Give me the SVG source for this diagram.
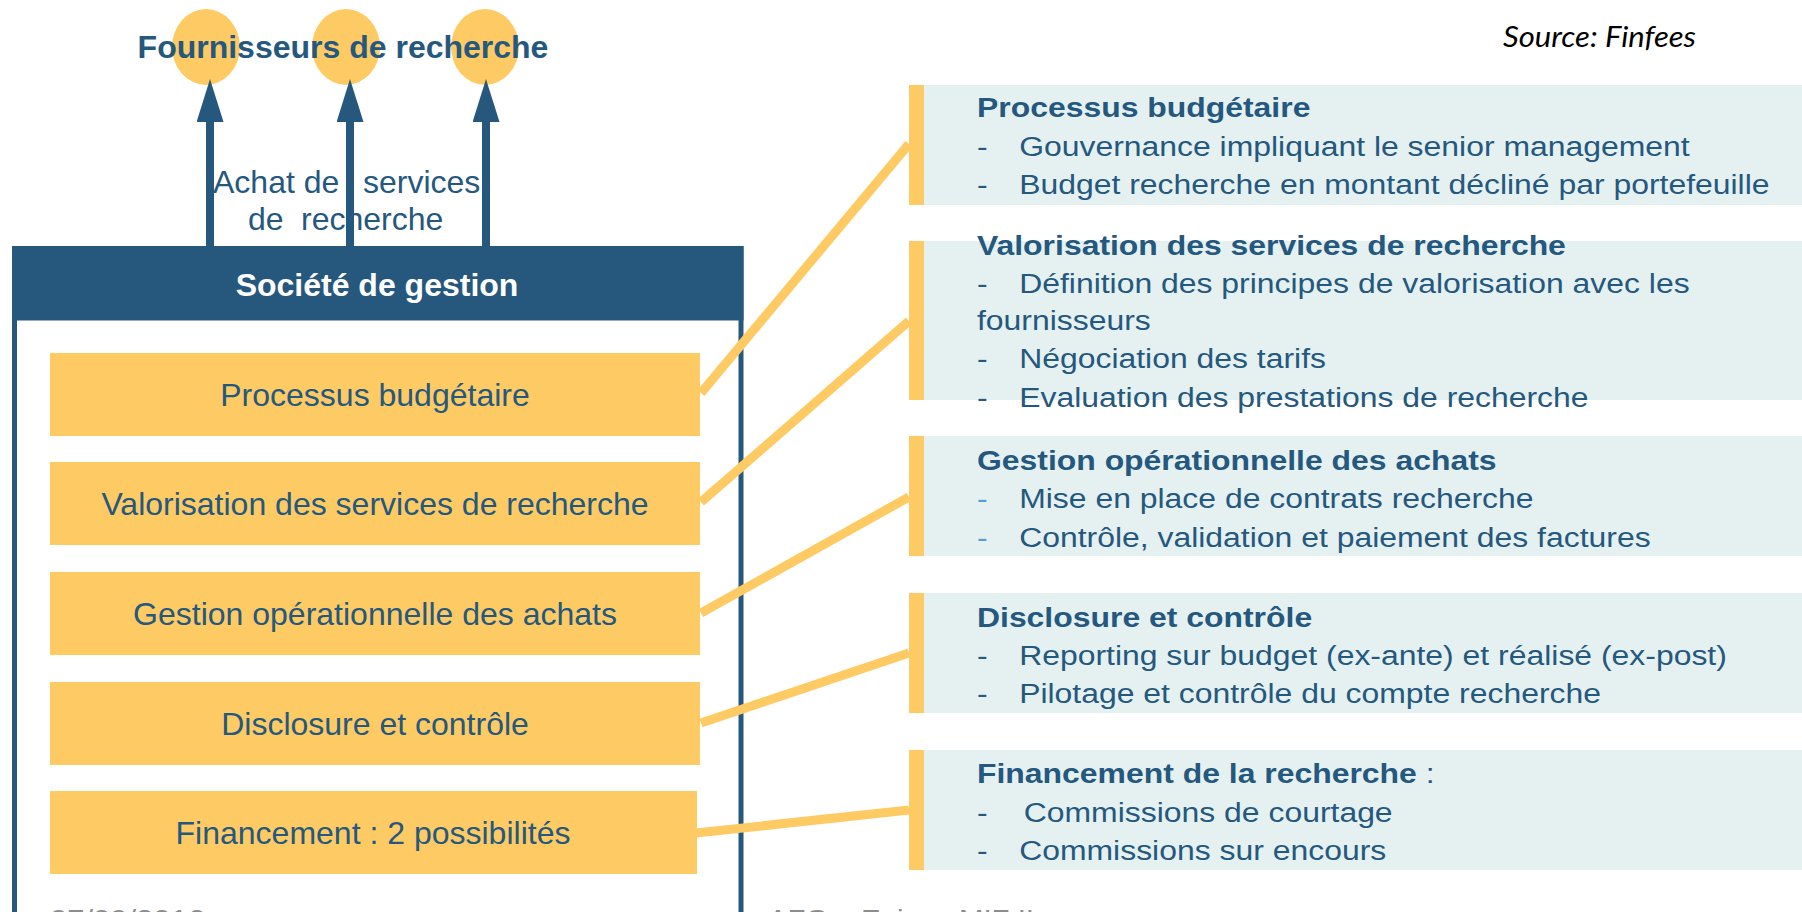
<svg xmlns="http://www.w3.org/2000/svg" width="1802" height="912" viewBox="0 0 1802 912">
  <style>
    .t { font-family: "Liberation Sans", Arial, sans-serif; fill: #25587E; }
    .b { font-weight: bold; }
    .box { fill: #FECA64; }
    .panel { fill: #E5F1F1; }
    .bar { fill: #FECA64; }
    .link { stroke: #FECA64; stroke-width: 9; fill: none; stroke-linecap: butt; }
    .shaft { stroke: #26587D; stroke-width: 8; fill: none; }
    .foot { font-family: "Liberation Sans", Arial, sans-serif; font-size: 26px; fill: #8C8C8C; }
  </style>
  <defs>
    <marker id="head" markerUnits="userSpaceOnUse" markerWidth="44" markerHeight="28" refX="0" refY="13.5" orient="auto">
      <path d="M0,0 L43,13.5 L0,27 z" fill="#26587D"/>
    </marker>
  </defs>

  <rect width="1802" height="912" fill="#FFFFFF"/>

  <!-- research providers -->
  <g id="providers">
    <ellipse cx="206" cy="47" rx="34" ry="38" fill="#FECA64"/>
    <ellipse cx="346" cy="47" rx="34" ry="38" fill="#FECA64"/>
    <ellipse cx="485" cy="47" rx="34" ry="38" fill="#FECA64"/>
    <text class="t b" x="343" y="58" font-size="32" text-anchor="middle">Fournisseurs de recherche</text>
  </g>

  <text id="source" x="1503" y="47" font-family="Lato, 'Open Sans', sans-serif" font-style="italic" font-size="29" fill="#000000" textLength="193" lengthAdjust="spacingAndGlyphs">Source: Finfees</text>

  <!-- purchase label -->
  <g id="purchase-label">
    <text class="t" font-size="32"><tspan x="213" y="193">Achat de</tspan><tspan x="363" y="193">services</tspan></text>
    <text class="t" font-size="32"><tspan x="248" y="230">de</tspan><tspan x="301" y="230">recherche</tspan></text>
  </g>

  <!-- management company frame -->
  <g id="societe">
    <rect x="14.5" y="248.5" width="726.5" height="720" fill="none" stroke="#26587D" stroke-width="5"/>
    <rect x="12" y="246" width="731.5" height="74.5" fill="#26587D"/>
    <text class="b" x="377" y="296" font-family="'Liberation Sans', Arial, sans-serif" font-size="32" fill="#FFFFFF" text-anchor="middle">Société de gestion</text>
  </g>

  <g id="box-budget">
    <rect class="box" x="50" y="353" width="650" height="83"/>
    <text class="t" x="375" y="406" font-size="32" text-anchor="middle">Processus budgétaire</text>
  </g>
  <g id="box-valorisation">
    <rect class="box" x="50" y="462" width="650" height="83"/>
    <text class="t" x="375" y="515" font-size="32" text-anchor="middle">Valorisation des services de recherche</text>
  </g>
  <g id="box-gestion">
    <rect class="box" x="50" y="572" width="650" height="83"/>
    <text class="t" x="375" y="625" font-size="32" text-anchor="middle">Gestion opérationnelle des achats</text>
  </g>
  <g id="box-disclosure">
    <rect class="box" x="50" y="682" width="650" height="83"/>
    <text class="t" x="375" y="735" font-size="32" text-anchor="middle">Disclosure et contrôle</text>
  </g>
  <g id="box-financement">
    <rect class="box" x="50" y="791" width="647" height="83"/>
    <text class="t" x="373" y="844" font-size="32" text-anchor="middle">Financement : 2 possibilités</text>
  </g>

  <!-- detail panels -->
  <g id="panel-budget">
    <rect class="panel" x="924" y="85" width="878" height="120"/>
    <rect class="bar" x="909" y="85" width="15" height="120"/>
    <g transform="scale(1.14 1)" class="t" font-size="28">
      <text class="b" x="857" y="117">Processus budgétaire</text>
      <text x="857" y="156">-</text><text x="894" y="156">Gouvernance impliquant le senior management</text>
      <text x="857" y="194">-</text><text x="894" y="194">Budget recherche en montant décliné par portefeuille</text>
    </g>
  </g>
  <g id="panel-valorisation">
    <rect class="panel" x="924" y="241" width="878" height="159"/>
    <rect class="bar" x="909" y="241" width="15" height="159"/>
    <g transform="scale(1.14 1)" class="t" font-size="28">
      <text class="b" x="857" y="255">Valorisation des services de recherche</text>
      <text x="857" y="293">-</text><text x="894" y="293">Définition des principes de valorisation avec les</text>
      <text x="857" y="330">fournisseurs</text>
      <text x="857" y="368">-</text><text x="894" y="368">Négociation des tarifs</text>
      <text x="857" y="407">-</text><text x="894" y="407">Evaluation des prestations de recherche</text>
    </g>
  </g>
  <g id="panel-gestion">
    <rect class="panel" x="924" y="436" width="878" height="120"/>
    <rect class="bar" x="909" y="436" width="15" height="120"/>
    <g transform="scale(1.14 1)" class="t" font-size="28">
      <text class="b" x="857" y="470">Gestion opérationnelle des achats</text>
      <text x="857" y="508" style="fill:#5B9BD5">-</text><text x="894" y="508">Mise en place de contrats recherche</text>
      <text x="857" y="547" style="fill:#5B9BD5">-</text><text x="894" y="547">Contrôle, validation et paiement des factures</text>
    </g>
  </g>
  <g id="panel-disclosure">
    <rect class="panel" x="924" y="593" width="878" height="120"/>
    <rect class="bar" x="909" y="593" width="15" height="120"/>
    <g transform="scale(1.14 1)" class="t" font-size="28">
      <text class="b" x="857" y="627">Disclosure et contrôle</text>
      <text x="857" y="665">-</text><text x="894" y="665">Reporting sur budget (ex-ante) et réalisé (ex-post)</text>
      <text x="857" y="703">-</text><text x="894" y="703">Pilotage et contrôle du compte recherche</text>
    </g>
  </g>
  <g id="panel-financement">
    <rect class="panel" x="924" y="750" width="878" height="120"/>
    <rect class="bar" x="909" y="750" width="15" height="120"/>
    <g transform="scale(1.14 1)" class="t" font-size="28">
      <text x="857" y="783"><tspan class="b">Financement de la recherche</tspan> :</text>
      <text x="857" y="822">-</text><text x="898" y="822">Commissions de courtage</text>
      <text x="857" y="860">-</text><text x="894" y="860">Commissions sur encours</text>
    </g>
  </g>

  <!-- connectors -->
  <g id="connectors">
    <line class="shaft" x1="210" y1="246" x2="210" y2="122" marker-end="url(#head)"/>
    <line class="shaft" x1="350" y1="246" x2="350" y2="122" marker-end="url(#head)"/>
    <line class="shaft" x1="486" y1="246" x2="486" y2="122" marker-end="url(#head)"/>
    <line class="link" x1="701" y1="393" x2="909" y2="144"/>
    <line class="link" x1="701" y1="502" x2="909" y2="321"/>
    <line class="link" x1="701" y1="613" x2="909" y2="497"/>
    <line class="link" x1="701" y1="723" x2="909" y2="653"/>
    <line class="link" x1="696" y1="833" x2="909" y2="810"/>
  </g>

  <!-- footer -->
  <text class="foot" x="50" y="928" textLength="155" lengthAdjust="spacingAndGlyphs">07/09/2016</text>
  <text class="foot" x="768" y="928" textLength="266" lengthAdjust="spacingAndGlyphs">AFG – Enjeux MIF II</text>
</svg>
